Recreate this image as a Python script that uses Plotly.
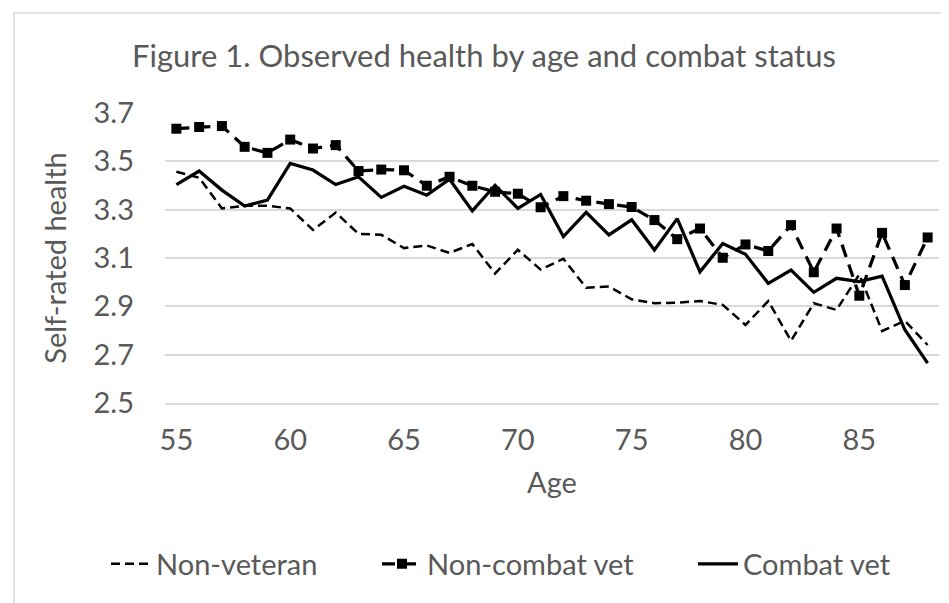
import plotly.graph_objects as go

ages = list(range(55, 89))
non_veteran = [3.457, 3.432, 3.305, 3.316, 3.316, 3.305, 3.216, 3.288, 3.200, 3.196,
               3.141, 3.152, 3.121, 3.158, 3.036, 3.134, 3.052, 3.097, 2.977, 2.982,
               2.929, 2.913, 2.915, 2.922, 2.906, 2.823, 2.922, 2.757, 2.913, 2.885,
               3.032, 2.798, 2.840, 2.740]
non_combat_vet = [3.635, 3.642, 3.646, 3.560, 3.535, 3.590, 3.553, 3.567, 3.460, 3.466,
                  3.463, 3.399, 3.436, 3.399, 3.374, 3.366, 3.310, 3.356, 3.337, 3.323,
                  3.311, 3.257, 3.178, 3.222, 3.101, 3.156, 3.129, 3.236, 3.041, 3.222,
                  2.944, 3.204, 2.988, 3.185]
combat_vet = [3.404, 3.460, 3.381, 3.315, 3.340, 3.491, 3.464, 3.404, 3.436, 3.351,
              3.397, 3.360, 3.426, 3.295, 3.401, 3.305, 3.363, 3.189, 3.289, 3.196,
              3.258, 3.133, 3.263, 3.043, 3.160, 3.115, 2.995, 3.050, 2.958, 3.016,
              3.002, 3.025, 2.803, 2.665]
x_ticks = [55, 60, 65, 70, 75, 80, 85]
y_ticks = [2.5, 2.7, 2.9, 3.1, 3.3, 3.5, 3.7]

W, H = 949, 603
L, R, T, B = 157, 18, 105, 208
PW, PH = W - L - R, H - T - B
FONT = "Lato"
GREY = "#595959"
GRID = "#d9d9d9"
FS = 29


def px_x(p):
    return (p - L) / PW


def px_y(p):
    return (H - B - p) / PH


def legend_box(left_px):
    return dict(orientation="h", x=px_x(left_px), y=px_y(556), xanchor="left",
                yanchor="middle", font=dict(family=FONT, size=FS, color=GREY),
                bgcolor="rgba(0,0,0,0)", itemwidth=40)


fig = go.Figure()
fig.add_trace(go.Scatter(
    x=ages, y=non_veteran, name="Non-veteran", mode="lines", legend="legend",
    line=dict(color="black", width=2.5, dash="9px,5px")))
fig.add_trace(go.Scatter(
    x=ages, y=non_combat_vet, name="Non-combat vet", mode="lines+markers", legend="legend2",
    line=dict(color="black", width=3.25, dash="13px,8px"),
    marker=dict(symbol="square", size=10, color="black")))
fig.add_trace(go.Scatter(
    x=ages, y=combat_vet, name="Combat vet", mode="lines", legend="legend3",
    line=dict(color="black", width=3.25)))

fig.update_layout(
    width=W, height=H,
    margin=dict(l=L, r=R, t=T, b=B, pad=0),
    paper_bgcolor="white", plot_bgcolor="white",
    font=dict(family=FONT, size=FS, color=GREY),
    title=dict(text="Figure 1. Observed health by age and combat status",
               x=476 / W, xref="container", xanchor="center",
               y=1 - 48 / H, yref="container", yanchor="middle",
               font=dict(family=FONT, size=31, color=GREY)),
    showlegend=True,
    legend=legend_box(98),
    legend2=legend_box(369),
    legend3=legend_box(685),
    xaxis=dict(range=[54.5, 88.5], tickmode="array", tickvals=x_ticks,
               ticktext=[str(v) for v in x_ticks], showgrid=False, zeroline=False,
               showline=True, linecolor=GRID, linewidth=1.5, ticks="",
               ticklabelstandoff=10,
               title=dict(text="Age", standoff=18, font=dict(family=FONT, size=FS, color=GREY))),
    yaxis=dict(range=[2.5, 3.7], tickmode="array", tickvals=y_ticks,
               ticktext=[f"{v:.1f}" for v in y_ticks], showgrid=True, gridcolor=GRID,
               gridwidth=1.5, zeroline=False, showline=False, ticks="",
               ticklabelstandoff=30,
               title=dict(text="Self-rated health", standoff=18,
                          font=dict(family=FONT, size=FS, color=GREY))),
    shapes=[dict(type="rect", xref="paper", yref="paper",
                 x0=px_x(6), x1=px_x(943), y0=px_y(597), y1=px_y(5),
                 line=dict(color=GRID, width=1.5), fillcolor="rgba(0,0,0,0)", layer="below")],
)

fig.write_html("out.html")
